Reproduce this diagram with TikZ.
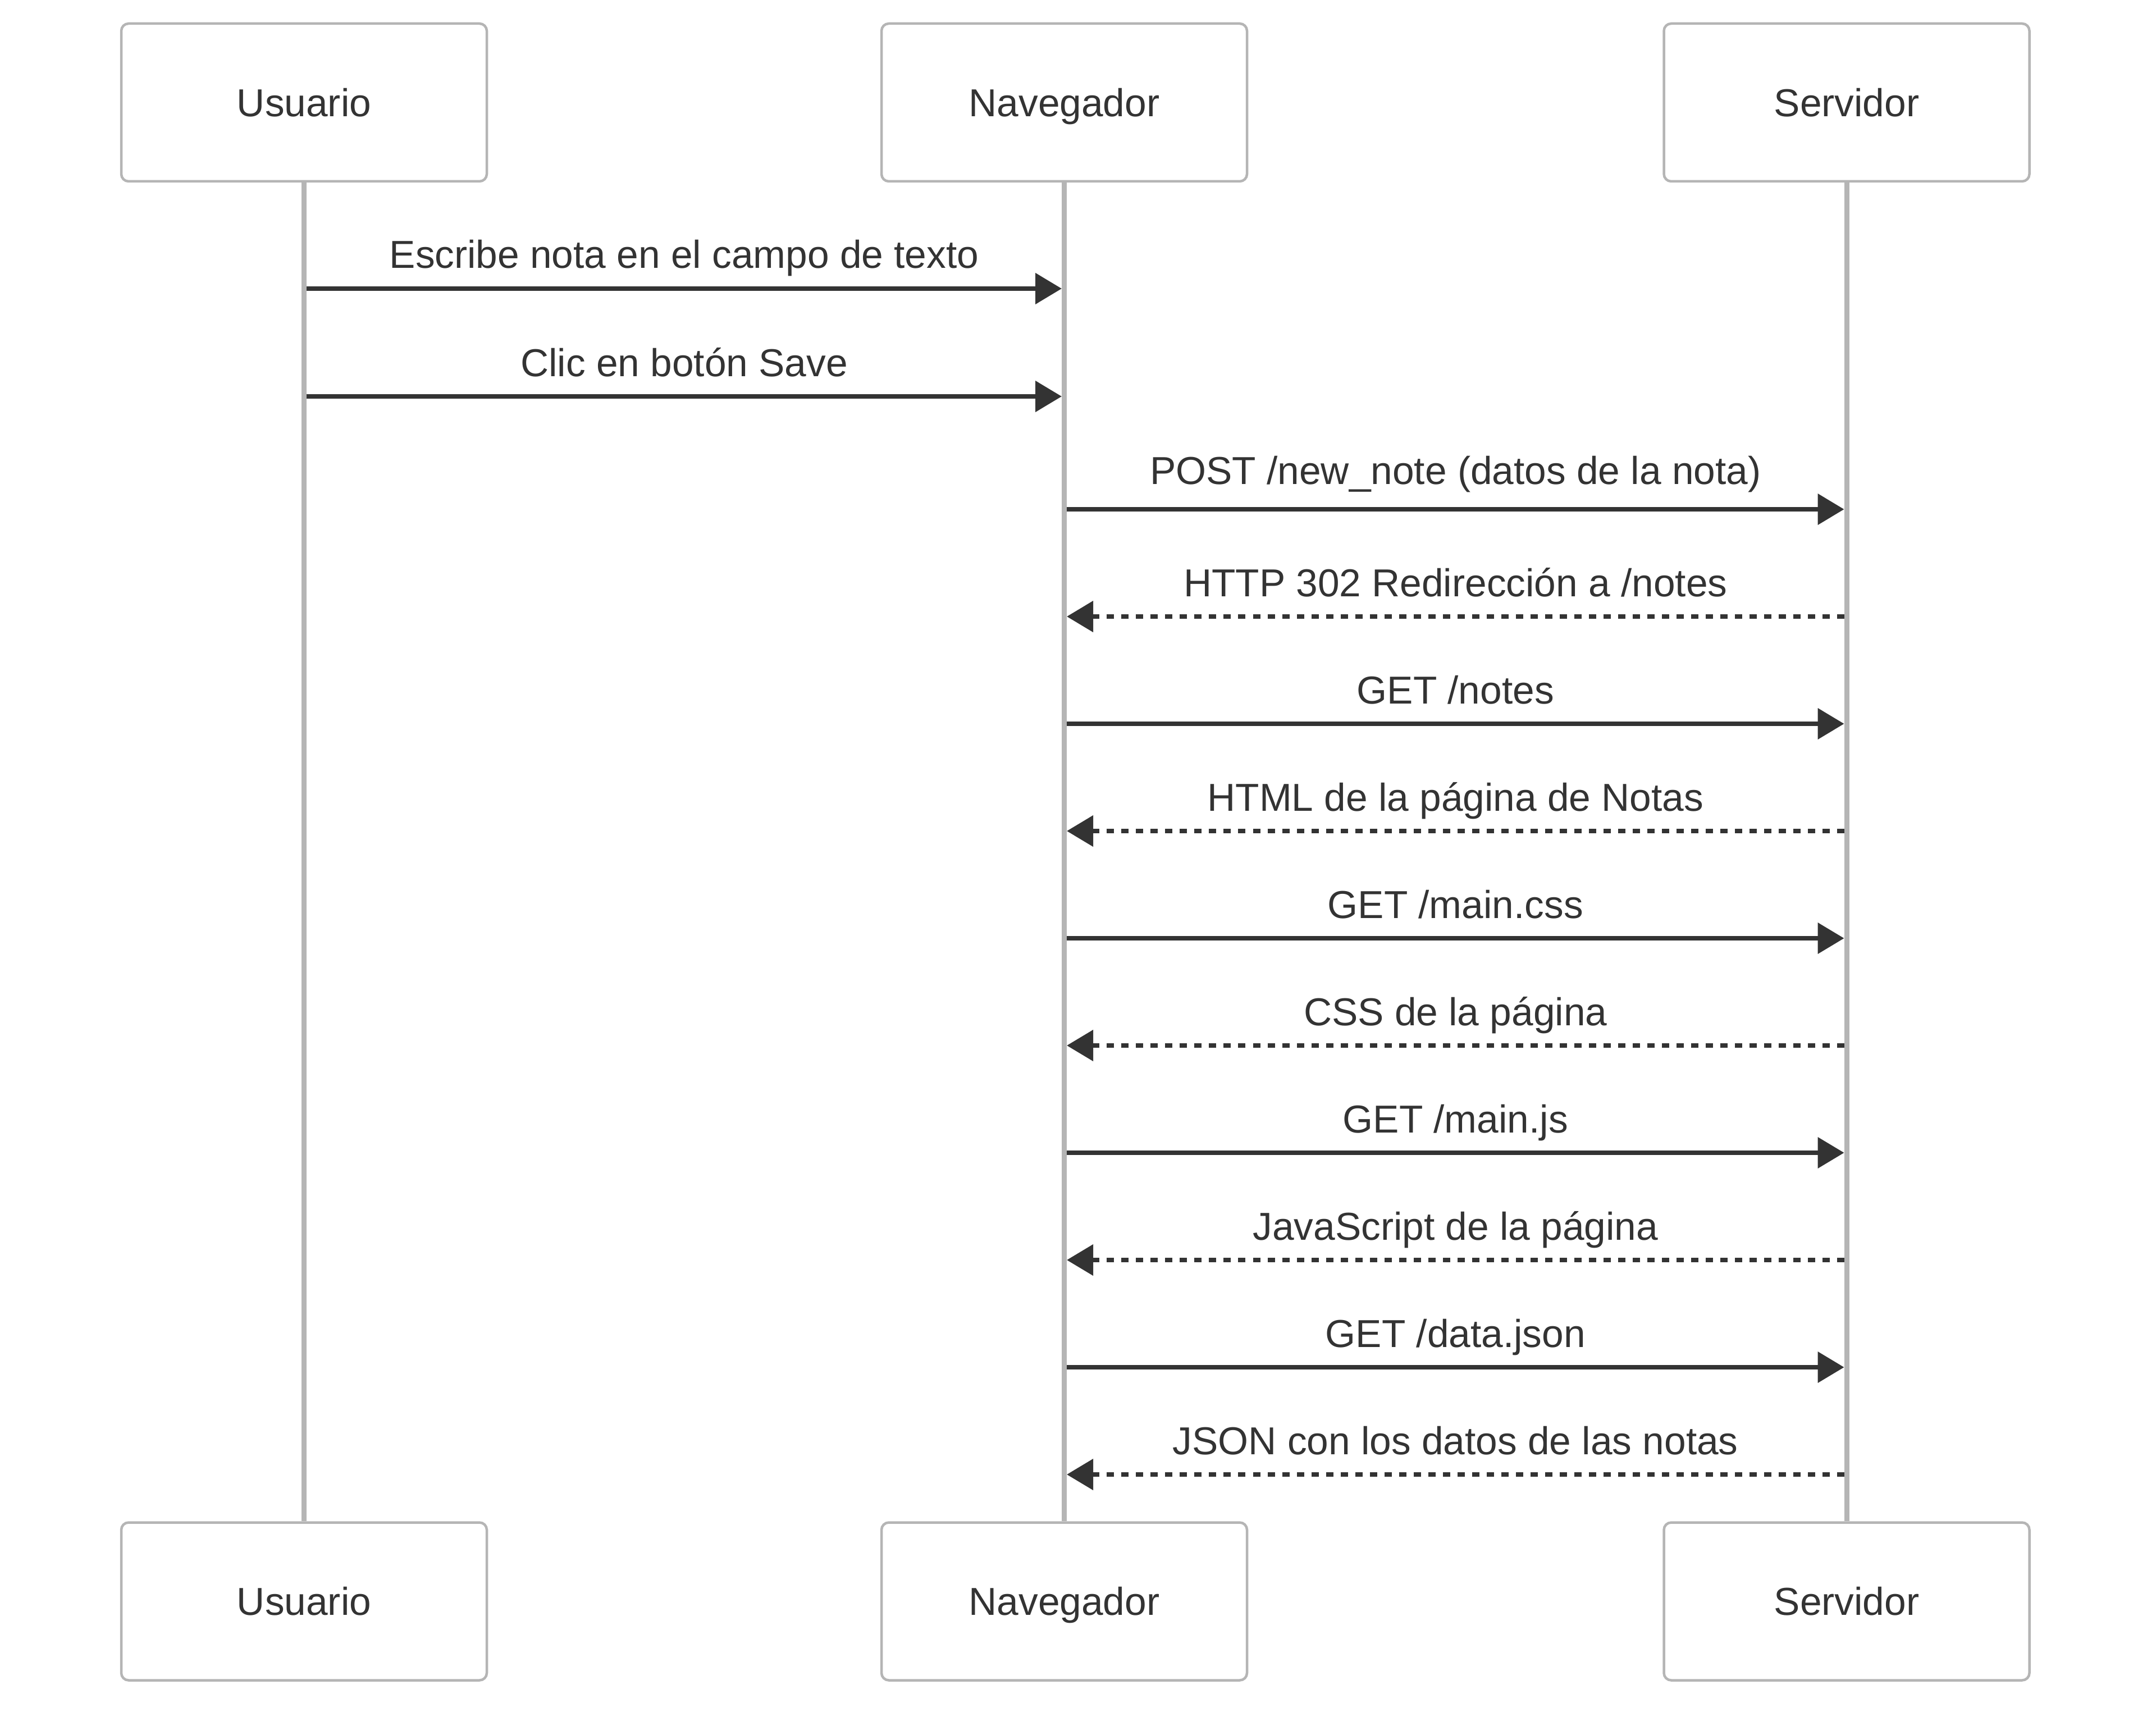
\documentclass[tikz,border=0pt]{standalone}
\usepackage{fontspec}
\setmainfont{Liberation Sans}
\usetikzlibrary{arrows.meta}

\definecolor{ink}{HTML}{333333}
\definecolor{linegray}{HTML}{B5B5B5}

\tikzset{
  actor/.style = {draw = linegray, line width = 0.045cm, rounded corners = 0.13cm,
    fill = white, minimum width = 6.51cm, minimum height = 2.81cm, text = ink,
    font = \fontsize{19.75}{24}\selectfont, text height = 14.1pt, text depth = 0pt},
  life/.style = {draw = linegray, line width = 0.09cm},
  msg/.style = {draw = ink, line width = 0.08cm, shorten > = 0.045cm, shorten < = 0.045cm,
    -{Triangle[length = 0.47cm, width = 0.54cm]}},
  reply/.style = {msg, dash pattern = on 0.13cm off 0.13cm},
  lbl/.style = {text = ink, font = \fontsize{19.75}{24}\selectfont, anchor = base,
    inner sep = 0pt, yshift = 0.36cm}
}

\begin{document}
\begin{tikzpicture}
\useasboundingbox (0, 0) rectangle (38.4, -30.49);
%\draw [very thin, color = gray](0, 0) grid (38, -30);

% actors
\node [actor] (usr) at (5.415, -1.825) {Usuario};
\node [actor] (nav) at (18.955, -1.825) {Navegador};
\node [actor] (srv) at (32.89, -1.825) {Servidor};
\node [actor] (usrb) at (5.415, -28.52) {Usuario};
\node [actor] (navb) at (18.955, -28.52) {Navegador};
\node [actor] (srvb) at (32.89, -28.52) {Servidor};

% lifelines
\draw [life] (usr.south) to (usrb.north);
\draw [life] (nav.south) to (navb.north);
\draw [life] (srv.south) to (srvb.north);

% messages
\draw [msg] (usr |- 0, -5.14) to node [lbl] {Escribe nota en el campo de texto} (nav |- 0, -5.14);
\draw [msg] (usr |- 0, -7.06) to node [lbl] {Clic en botón Save} (nav |- 0, -7.06);
\draw [msg] (nav |- 0, -9.07) to node [lbl, yshift = 0.09cm] {POST /new\_note (datos de la nota)} (srv |- 0, -9.07);
\draw [reply] (srv |- 0, -10.98) to node [lbl] {HTTP 302 Redirección a /notes} (nav |- 0, -10.98);
\draw [msg] (nav |- 0, -12.89) to node [lbl] {GET /notes} (srv |- 0, -12.89);
\draw [reply] (srv |- 0, -14.80) to node [lbl] {HTML de la página de Notas} (nav |- 0, -14.80);
\draw [msg] (nav |- 0, -16.71) to node [lbl] {GET /main.css} (srv |- 0, -16.71);
\draw [reply] (srv |- 0, -18.62) to node [lbl] {CSS de la página} (nav |- 0, -18.62);
\draw [msg] (nav |- 0, -20.53) to node [lbl] {GET /main.js} (srv |- 0, -20.53);
\draw [reply] (srv |- 0, -22.44) to node [lbl] {JavaScript de la página} (nav |- 0, -22.44);
\draw [msg] (nav |- 0, -24.35) to node [lbl] {GET /data.json} (srv |- 0, -24.35);
\draw [reply] (srv |- 0, -26.26) to node [lbl] {JSON con los datos de las notas} (nav |- 0, -26.26);
\end{tikzpicture}
\end{document}
